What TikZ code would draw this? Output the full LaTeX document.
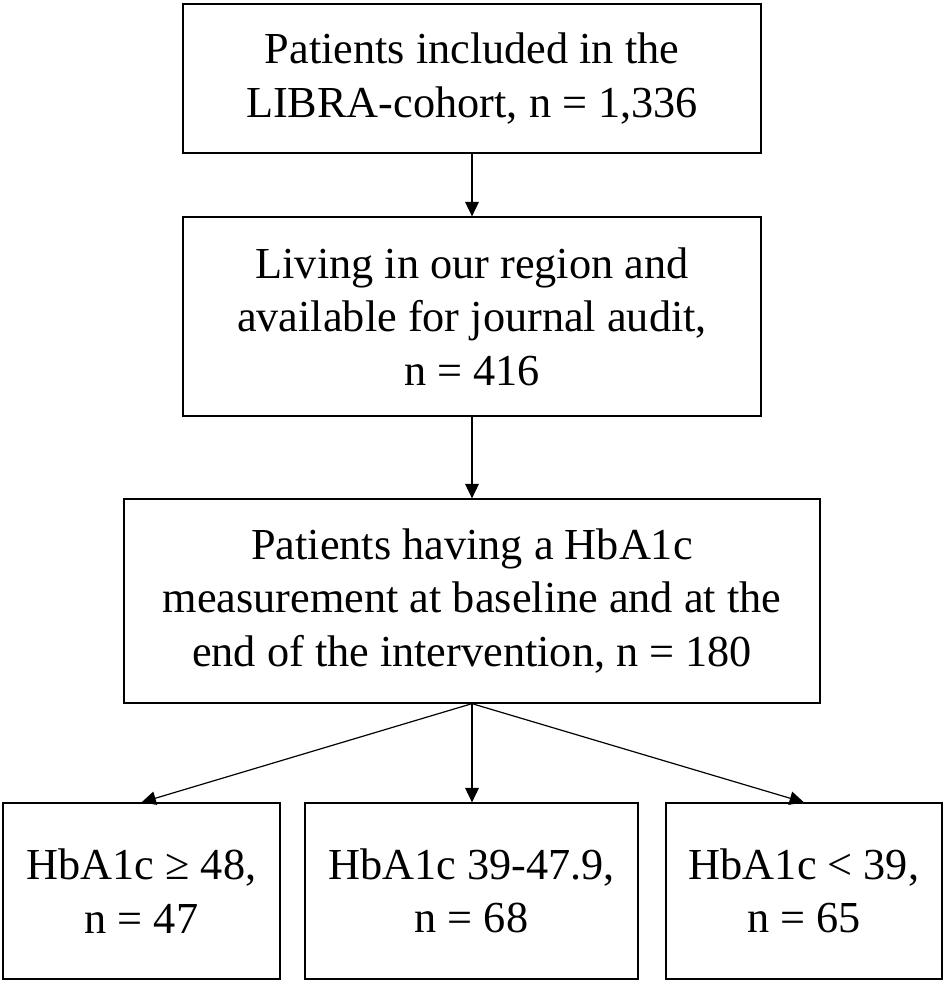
\documentclass[tikz,border=0pt]{standalone}
\usepackage{fontspec}
\setmainfont{Liberation Serif}
\usepackage{tikz}
\usetikzlibrary{arrows.meta}
\tikzset{box/.style={draw=black, line width=0.9pt, align=center, inner sep=0pt,
   font=\fontsize{31.5}{38}\selectfont},
 flow/.style={draw=black, line width=0.85pt, -{Triangle[length=0.36cm,width=0.34cm]}},
 }

\begin{document}
\begin{tikzpicture}
        \useasboundingbox (0, 0) rectangle (23.625, -24.775);
        \node [box, minimum width=14.45cm, minimum height=3.725cm] (patients) at (11.8, -1.9625)
            {Patients included in the\\LIBRA-cohort, n = 1,336};
        \node [box, minimum width=14.45cm, minimum height=4.975cm] (region) at (11.8, -7.9125)
            {Living in our region and\\available for journal audit,\\n = 416};
        \node [box, minimum width=17.4cm, minimum height=5.1cm] (hba) at (11.8, -15.025)
            {Patients having a HbA1c\\measurement at baseline and at the\\end of the intervention, n = 180};
        \node [box, minimum width=6.925cm, minimum height=4.4cm] (high) at (3.5375, -22.275)
            {HbA1c ≥ 48,\\n = 47};
        \node [box, minimum width=8.325cm, minimum height=4.4cm] (mid) at (11.7875, -22.275)
            {HbA1c 39-47.9,\\n = 68};
        \node [box, minimum width=6.9cm, minimum height=4.4cm] (low) at (20.1, -22.275)
            {HbA1c \textless{} 39,\\n = 65};
        \draw [flow] (patients) -- (region);
        \draw [flow] (region) -- (hba);
        \draw [flow] (hba.south) -- (high.north);
        \draw [flow] (hba.south) -- (mid.north -| hba.south);
        \draw [flow] (hba.south) -- (low.north);
    \end{tikzpicture}
\end{document}
